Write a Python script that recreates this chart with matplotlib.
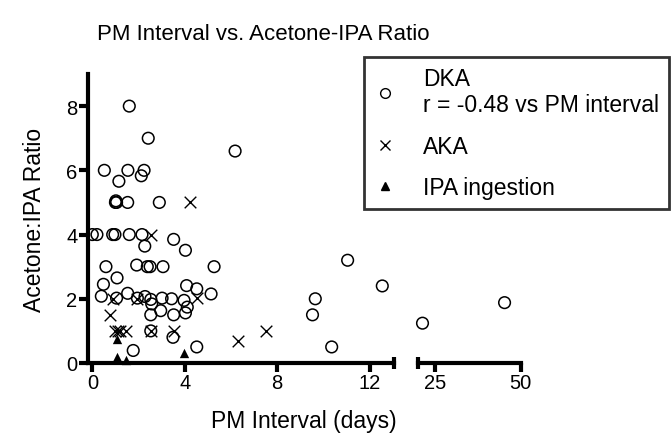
import numpy as np
import matplotlib.pyplot as plt
from matplotlib.lines import Line2D

plt.rcParams['font.family'] = ['Liberation Sans', 'DejaVu Sans']

# DKA cases (open circles)
dka_x = [1.60, 2.42, 6.18, 0.52, 1.54, 2.24, 2.12, 1.15, 1.00, 1.02, 1.05, 1.53, 2.90,
         0.0, 0.2, 0.88, 0.98, 1.6, 2.15, 2.27, 3.52, 4.03, 0.59, 1.92, 2.38, 2.5, 3.06, 5.27,
         0.48, 1.07, 0.39, 1.05, 1.53, 1.95, 2.28, 2.53, 2.57, 3.02, 3.43, 3.97, 4.08, 4.52,
         5.14, 4.11, 4.03, 2.96, 2.53, 3.52, 2.53, 3.49, 1.77, 4.52,
         11.05, 9.65, 9.53, 10.36, 12.55, 21.4, 45.3]
dka_y = [8.0, 7.0, 6.6, 6.0, 6.0, 6.0, 5.83, 5.66, 5.0, 5.05, 5.0, 5.0, 5.0,
         4.0, 4.0, 4.0, 4.0, 4.0, 4.0, 3.64, 3.85, 3.51, 3.0, 3.05, 3.0, 3.0, 3.0, 3.0,
         2.45, 2.65, 2.08, 2.02, 2.17, 2.02, 2.07, 1.98, 1.84, 2.02, 2.0, 1.95, 2.41, 2.31,
         2.15, 1.74, 1.56, 1.63, 1.50, 1.50, 1.0, 0.80, 0.39, 0.50,
         3.2, 2.0, 1.5, 0.5, 2.4, 1.24, 1.88]

# AKA cases (crosses)
aka_x = [4.21, 2.53, 0.76, 0.91, 1.92, 0.98, 1.1, 1.2, 1.44, 2.53, 3.52, 4.55, 6.32, 7.53]
aka_y = [5.0, 4.0, 1.5, 2.0, 2.0, 1.0, 1.0, 1.0, 1.0, 1.0, 1.0, 2.02, 0.67, 1.0]

# IPA ingestion (filled triangles)
ipa_x = [1.05, 1.05, 1.46, 3.98]
ipa_y = [0.75, 0.2, 0.1, 0.3]

W, H = 671, 439
fig = plt.figure(figsize=(W / 100, H / 100), dpi=100)

ybot = (H - 364) / H
ytop = (H - 75) / H
ax1 = fig.add_axes([87.7 / W, ybot, (394.3 - 87.7) / W, ytop - ybot])
ax2 = fig.add_axes([417.7 / W, ybot, (520.7 - 417.7) / W, ytop - ybot], sharey=ax1)

# broken x axis: 0..13 on the left, 20..50 on the right
ranges = [(-0.5, 13.07), (20, 50)]


def part(xs, ys, lo, hi):
    xs = np.array(xs)
    ys = np.array(ys)
    m = (xs >= lo) & (xs <= hi)
    return xs[m], ys[m]


lw = 3
for ax, (lo, hi) in zip((ax1, ax2), ranges):
    x, y = part(dka_x, dka_y, lo, hi)
    ax.scatter(x, y, s=70, facecolors='none', edgecolors='k', linewidths=1.1, clip_on=False)
    x, y = part(aka_x, aka_y, lo, hi)
    ax.scatter(x, y, s=70, marker='x', c='k', linewidths=1.0, clip_on=False)
    x, y = part(ipa_x, ipa_y, lo, hi)
    ax.scatter(x, y, s=45, marker='^', c='k', linewidths=0, clip_on=False)
    ax.spines['top'].set_visible(False)
    ax.spines['right'].set_visible(False)
    ax.spines['bottom'].set_linewidth(lw)
    ax.spines['left'].set_linewidth(lw)
    ax.tick_params(axis='both', which='major', width=lw, length=6.5, labelsize=14.5, pad=1)
    ax.tick_params(axis='x', which='minor', direction='inout', width=lw, length=9)

ax1.set_ylim(0, 9)
ax1.set_yticks([0, 2, 4, 6, 8])
ax1.set_xlim(-0.2, 13.07)
ax1.set_xticks([0, 4, 8, 12])
ax1.set_xticks([13.07], minor=True)

ax2.set_xlim(20, 50)
ax2.set_xticks([25, 50])
ax2.set_xticks([20], minor=True)
ax2.spines['left'].set_visible(False)
ax2.tick_params(axis='y', left=False, labelleft=False)

fig.text(97 / W, 1 - 35 / H, 'PM Interval vs. Acetone-IPA Ratio', fontsize=16, va='center', ha='left')
fig.text(304 / W, 1 - 422 / H, 'PM Interval (days)', fontsize=16.5, va='center', ha='center')
fig.text(35 / W, 1 - 220 / H, 'Acetone:IPA Ratio', fontsize=16.5, va='center', ha='center', rotation=90)

handles = [
    Line2D([], [], ls='none', marker='o', mfc='none', mec='k', ms=7, mew=1.0),
    Line2D([], [], ls='none', marker='x', color='k', ms=7, mew=1.0),
    Line2D([], [], ls='none', marker='^', color='k', ms=6),
]
labels = ['DKA\nr = -0.48 vs PM interval', 'AKA', 'IPA ingestion']
leg = fig.legend(handles, labels, loc='upper left', bbox_to_anchor=(364 / W, 1 - 58 / H),
                 borderaxespad=0, fontsize=16.5, frameon=True, fancybox=False, edgecolor='k',
                 handlelength=1.0, handletextpad=1.13, labelspacing=0.8, borderpad=0.43)
leg.get_frame().set_linewidth(2)

fig.savefig('out.png', dpi=100)
